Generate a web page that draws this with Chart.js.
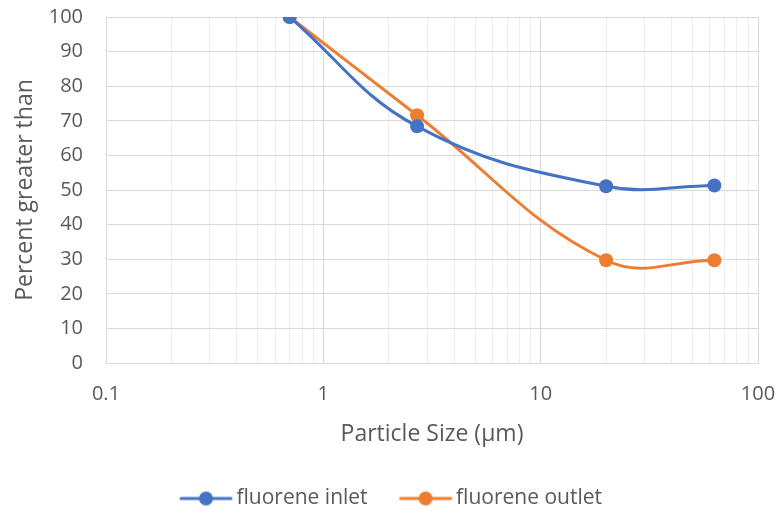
<!DOCTYPE html>
<html>
<head>
<meta charset="utf-8">
<script src="https://cdn.jsdelivr.net/npm/chart.js@4"></script>
<style>
  html, body { margin: 0; padding: 0; background: #fff; }
  #wrap { width: 782px; height: 519px; }
</style>
</head>
<body>
<div id="wrap"><canvas id="psdChart" width="782" height="519"></canvas></div>
<script>
// particle size distribution, fluorene
const sizes = [0.7, 2.7, 20, 63];
const inletPct = [100, 68.4, 51.1, 51.3];
const outletPct = [100, 71.6, 29.7, 29.7];
const seriesNames = ['fluorene inlet', 'fluorene outlet'];
const yTicks = [0, 10, 20, 30, 40, 50, 60, 70, 80, 90, 100];

const BLUE = '#4472C4';
const ORANGE = '#ED7D31';
const TEXT = '#595959';
const FONT = "'Open Sans', 'Noto Sans', sans-serif";

// legend marker: short line with a dot, sitting at the right end of the image
function legendMarker(color) {
  const c = document.createElement('canvas');
  c.width = 84; c.height = 16;
  const g = c.getContext('2d');
  const x0 = 84 - 54;
  g.strokeStyle = color;
  g.lineWidth = 3;
  g.lineCap = 'round';
  g.beginPath(); g.moveTo(x0 + 2, 8); g.lineTo(x0 + 52, 8); g.stroke();
  g.fillStyle = color;
  g.beginPath(); g.arc(x0 + 27, 8, 7, 0, Math.PI * 2); g.fill();
  return c;
}
const markers = [legendMarker(BLUE), legendMarker(ORANGE)];

function toPoints(ys) {
  return sizes.map((x, i) => ({ x: x, y: ys[i] }));
}

// all 1..9 x 10^n ticks between 0.1 and 100
function logTicks() {
  const out = [];
  for (let e = -1; e < 2; e++) {
    for (let m = 1; m < 10; m++) out.push({ value: m * Math.pow(10, e) });
  }
  out.push({ value: 100 });
  return out;
}
function isDecade(v) {
  const l = Math.log10(v);
  return Math.abs(l - Math.round(l)) < 1e-9;
}

function series(i, ys, color) {
  return {
    label: seriesNames[i],
    data: toPoints(ys),
    borderColor: color,
    backgroundColor: color,
    borderWidth: 3,
    pointRadius: 7,
    pointHoverRadius: 7,
    pointBorderWidth: 0,
    tension: 0.4,
  };
}

const ctx = document.getElementById('psdChart').getContext('2d');
new Chart(ctx, {
  type: 'line',
  data: {
    datasets: [series(0, inletPct, BLUE), series(1, outletPct, ORANGE)],
  },
  options: {
    responsive: false,
    animation: false,
    layout: {
      padding: { top: 17, right: 24, left: 0, bottom: 0 },
    },
    scales: {
      x: {
        type: 'logarithmic',
        min: 0.1,
        max: 100,
        afterBuildTicks: (scale) => { scale.ticks = logTicks(); },
        afterFit: (scale) => { scale.height = 117; },
        grid: {
          // invisible tick marks keep the labels away from the axis
          tickLength: 19,
          tickColor: 'rgba(0,0,0,0)',
          color: (c) => (c.tick && isDecade(c.tick.value) ? '#d9d9d9' : '#eeeeee'),
          lineWidth: 1,
        },
        border: { color: '#d9d9d9', width: 1 },
        ticks: {
          autoSkip: false,
          maxRotation: 0,
          padding: 0,
          color: TEXT,
          font: { family: FONT, size: 20 },
          callback: (v) => (isDecade(v) ? String(Number(v.toPrecision(3))) : ''),
        },
        title: {
          display: true,
          text: 'Particle Size (µm)',
          color: TEXT,
          font: { family: FONT, size: 23 },
          padding: { top: 8, bottom: 32 },
        },
      },
      y: {
        min: 0,
        max: 100,
        afterBuildTicks: (scale) => { scale.ticks = yTicks.map((v) => ({ value: v })); },
        afterFit: (scale) => { scale.width = 106; },
        grid: { tickLength: 23, tickColor: 'rgba(0,0,0,0)', color: '#d9d9d9' },
        border: { color: '#d9d9d9' },
        ticks: {
          padding: 0,
          color: TEXT,
          font: { family: FONT, size: 20 },
        },
        title: {
          display: true,
          text: 'Percent greater than',
          color: TEXT,
          font: { family: FONT, size: 23 },
          padding: { top: 12, bottom: 0 },
        },
      },
    },
    plugins: {
      tooltip: { enabled: false },
      legend: {
        position: 'bottom',
        labels: {
          usePointStyle: true,
          pointStyleWidth: 70,
          padding: 8,
          color: TEXT,
          font: { family: FONT, size: 21 },
          generateLabels: (chart) =>
            chart.data.datasets.map((ds, i) => ({
              text: ds.label,
              pointStyle: markers[i],
              fillStyle: ds.borderColor,
              strokeStyle: ds.borderColor,
              fontColor: TEXT,
              lineWidth: 0,
              hidden: false,
              datasetIndex: i,
            })),
        },
      },
    },
  },
});
</script>
</body>
</html>
